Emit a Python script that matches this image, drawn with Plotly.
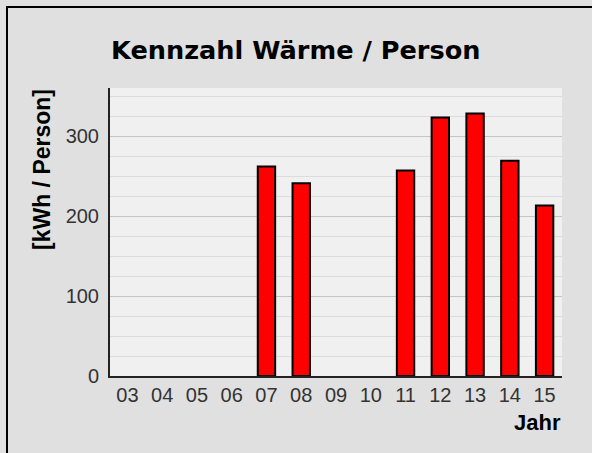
import plotly.graph_objects as go

years = ["03", "04", "05", "06", "07", "08", "09", "10", "11", "12", "13", "14", "15"]
values = [None, None, None, None, 262, 241, None, None, 257, 323, 328, 269, 213]

title_text = "Kennzahl Wärme / Person"
y_title = "[kWh / Person]"
x_title = "Jahr"

W, H = 592, 453
L, R, T, B = 110, 562, 88, 376
pw, ph = R - L, B - T

def px(x):
    return (x - L) / pw

def py(y):
    return (B - y) / ph

fig = go.Figure()
fig.add_trace(go.Bar(
    x=years, y=values,
    marker=dict(color="#ff0000", line=dict(color="#000000", width=2)),
))

tick_font = dict(family="Liberation Sans, Arial, sans-serif", size=20, color="#333333")
bold_font = dict(family="Liberation Sans, Arial, sans-serif", size=22, color="#000000", weight="bold")

fig.update_layout(
    width=W, height=H,
    margin=dict(l=L, r=W - R, t=T, b=H - B),
    paper_bgcolor="#e0e0e0",
    plot_bgcolor="#f0f0f0",
    showlegend=False,
    bargap=0.5,
    font=tick_font,
    title=dict(
        text=title_text,
        font=dict(family="DejaVu Sans, sans-serif", size=25.6, color="#000000", weight="bold"),
        x=111 / W, xanchor="left", xref="container",
        y=1 - 50 / H, yanchor="middle", yref="container",
    ),
    xaxis=dict(
        type="category", categoryorder="array", categoryarray=years,
        showline=True, linecolor="#222222", linewidth=2,
        ticks="", showgrid=False, zeroline=False,
        tickfont=tick_font,
    ),
    yaxis=dict(
        range=[0, 360], dtick=100, tick0=0,
        showline=True, linecolor="#222222", linewidth=2,
        ticks="", zeroline=False,
        showgrid=True, gridcolor="#c4c4c4", gridwidth=1,
        minor=dict(dtick=25, showgrid=True, gridcolor="#dcdcdc", gridwidth=1),
        tickfont=tick_font,
        ticklabelstandoff=5,
    ),
    annotations=[
        dict(text=y_title, textangle=-90, xref="paper", yref="paper",
             x=px(42), y=py(170), xanchor="center", yanchor="middle", showarrow=False,
             font=dict(bold_font, size=23)),
        dict(text=x_title, xref="paper", yref="paper",
             x=px(537), y=py(422), xanchor="center", yanchor="middle", showarrow=False,
             font=bold_font),
    ],
    shapes=[
        dict(type="line", xref="paper", yref="paper", x0=px(7), x1=px(7), y0=py(6), y1=py(460),
             line=dict(color="#000000", width=2)),
        dict(type="line", xref="paper", yref="paper", x0=px(6), x1=px(600), y0=py(7), y1=py(7),
             line=dict(color="#000000", width=2)),
    ],
)

fig.write_html(
    "out.html",
    config={"displayModeBar": False},
    post_script="document.body.style.margin='0';document.body.style.overflow='hidden';"
                "document.documentElement.style.overflow='hidden';",
)
